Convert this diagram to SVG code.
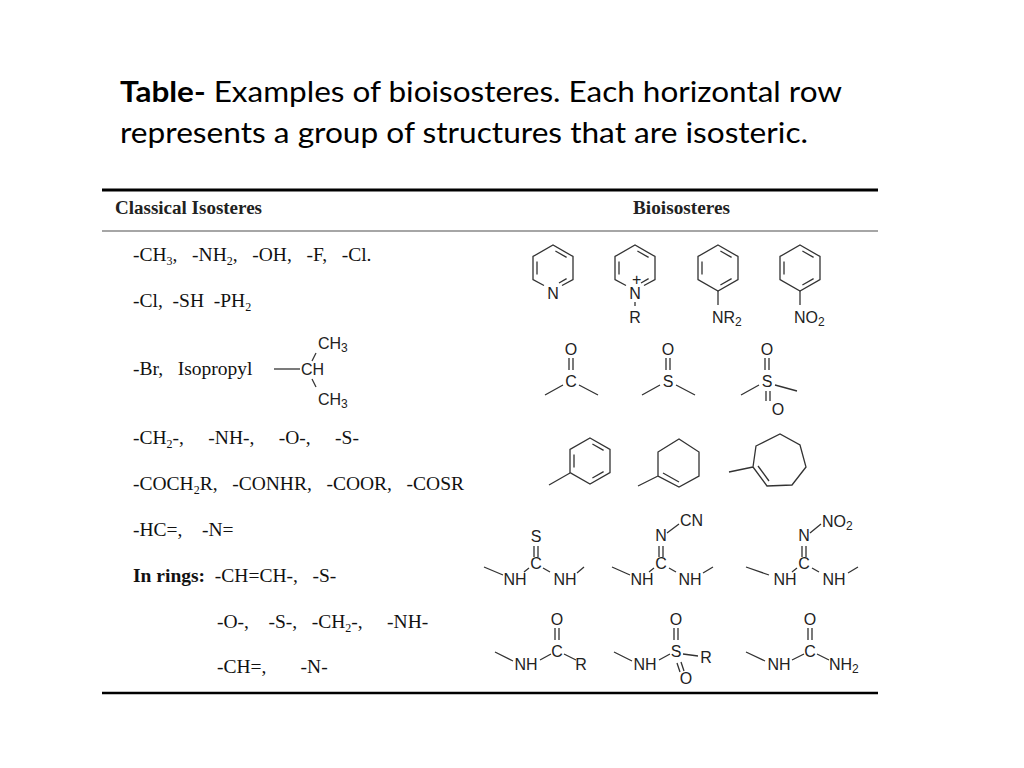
<svg xmlns="http://www.w3.org/2000/svg" width="1024" height="768" viewBox="0 0 1024 768">
<style>
text{white-space:pre}
.t{font-family:Lato,"Open Sans",sans-serif;font-size:29px;fill:#000}
.s{font-family:"Liberation Serif",serif;font-size:19.5px;fill:#111}
.h{font-family:"Liberation Serif",serif;font-size:18px;font-weight:bold;fill:#222}
.c{font-family:"Liberation Sans",Arial,sans-serif;font-size:16px;fill:#222}
.b{stroke:#333;stroke-width:1.3;fill:none}
</style>
<defs>
<g id="ring"><path class="b" d="M0,-23 L20,-11.5 L20,11.5 L0,23 L-20,11.5 L-20,-11.5 Z"/><path class="b" d="M2.4,-17 L13.6,-10.6 M13.6,10.6 L2.4,17 M-16,6.4 L-16,-6.4"/></g>
<g id="pyr"><path class="b" d="M-9,17.5 L-20,11.5 L-20,-11.5 L0,-23 L20,-11.5 L20,11.5 L9,17.5"/><path class="b" d="M2.4,-17 L13.6,-10.6 M13.6,10.6 L6,15 M-16,6.4 L-16,-6.4"/><text class="c" x="0" y="31" text-anchor="middle">N</text></g>
</defs>
<rect width="1024" height="768" fill="#fff"/>
<text class="t" x="120" y="102" textLength="722" lengthAdjust="spacingAndGlyphs"><tspan font-weight="bold">Table-</tspan> Examples of bioisosteres. Each horizontal row</text>
<text class="t" x="120" y="143" textLength="688" lengthAdjust="spacingAndGlyphs">represents a group of structures that are isosteric.</text>
<line x1="102" y1="190" x2="878" y2="190" stroke="#000" stroke-width="3"/>
<line x1="102" y1="231" x2="878" y2="231" stroke="#888" stroke-width="1.5"/>
<line x1="102" y1="693" x2="878" y2="693" stroke="#000" stroke-width="2.5"/>
<text class="h" x="115" y="214" textLength="147" lengthAdjust="spacingAndGlyphs">Classical Isosteres</text>
<text class="h" x="633" y="214" textLength="97" lengthAdjust="spacingAndGlyphs">Bioisosteres</text>
<g id="left">
<text class="s" x="133" y="261">-CH<tspan font-size="12" dy="4">3</tspan><tspan dy="-4">,   -NH</tspan><tspan font-size="12" dy="4">2</tspan><tspan dy="-4">,   -OH,   -F,   -Cl.</tspan></text>
<text class="s" x="133" y="307">-Cl,  -SH  -PH<tspan font-size="12" dy="4">2</tspan></text>
<text class="s" x="133" y="375">-Br,   Isopropyl</text>
<line class="b" x1="274" y1="369" x2="300" y2="369"/>
<text class="c" x="301" y="375">CH</text>
<text class="c" x="318" y="349">CH<tspan font-size="12" dy="3">3</tspan></text>
<text class="c" x="318" y="405">CH<tspan font-size="12" dy="3">3</tspan></text>
<line class="b" x1="316" y1="353" x2="312" y2="361"/>
<line class="b" x1="312" y1="379" x2="316" y2="387"/>
<text class="s" x="133" y="444">-CH<tspan font-size="12" dy="4">2</tspan><tspan dy="-4">-,     -NH-,     -O-,     -S-</tspan></text>
<text class="s" x="133" y="490">-COCH<tspan font-size="12" dy="4">2</tspan><tspan dy="-4">R,   -CONHR,   -COOR,   -COSR</tspan></text>
<text class="s" x="133" y="536">-HC=,    -N=</text>
<text class="s" x="133" y="582"><tspan font-weight="bold">In rings:</tspan>  -CH=CH-,   -S-</text>
<text class="s" x="217" y="628">-O-,    -S-,   -CH<tspan font-size="12" dy="4">2</tspan><tspan dy="-4">-,     -NH-</tspan></text>
<text class="s" x="217" y="673">-CH=,       -N-</text>
</g>
<g id="row1">
<use href="#pyr" x="553" y="268"/>
<use href="#pyr" x="635" y="268"/>
<text class="c" x="632" y="285" font-size="12">+</text>
<line class="b" x1="635" y1="302" x2="635" y2="306"/>
<text class="c" x="635" y="323" text-anchor="middle">R</text>
<use href="#ring" x="718" y="268"/>
<line class="b" x1="718" y1="291" x2="718" y2="305"/>
<text class="c" x="712" y="323">NR<tspan font-size="12" dy="3">2</tspan></text>
<use href="#ring" x="800" y="268"/>
<line class="b" x1="800" y1="291" x2="800" y2="305"/>
<text class="c" x="794" y="323">NO<tspan font-size="12" dy="3">2</tspan></text>
</g>
<g id="row2">
<text class="c" x="571" y="355" text-anchor="middle">O</text>
<path class="b" d="M569,358 V370 M573,358 V370 M545,395 L563,385 M579,385 L598,395"/>
<text class="c" x="571" y="387" text-anchor="middle">C</text>
<text class="c" x="668" y="355" text-anchor="middle">O</text>
<path class="b" d="M666,358 V370 M670,358 V370 M642,395 L660,385 M676,385 L695,395"/>
<text class="c" x="668" y="387" text-anchor="middle">S</text>
<text class="c" x="767" y="355" text-anchor="middle">O</text>
<path class="b" d="M765,358 V370 M769,358 V370 M741,395 L759,385 M775,385 L797,391 M766,391 V401 M770,391 V401"/>
<text class="c" x="767" y="387" text-anchor="middle">S</text>
<text class="c" x="778" y="415" text-anchor="middle">O</text>
</g>
<g id="row3">
<use href="#ring" x="590" y="461"/>
<line class="b" x1="570" y1="473" x2="549" y2="485"/>
<path class="b" d="M658,452 L679,439 L699,452 L699,476 L679,487 L658,476 Z M658,476 L638,486 M663,473 L679,482"/>
<path class="b" d="M756,446 L780,434 L800,445 L806,467 L792,485 L767,486 L753,467 Z M753,467 L729,472 M758,466 L769,481"/>
</g>
<g id="row4">
<text class="c" x="536" y="542" text-anchor="middle">S</text>
<path class="b" d="M534,546 V557 M538,546 V557 M484,567 L503,575 M529,568 L524,572 M543,568 L550,572 M577,573 L584,567"/>
<text class="c" x="536" y="569" text-anchor="middle">C</text>
<text class="c" x="515" y="585" text-anchor="middle">NH</text>
<text class="c" x="565" y="585" text-anchor="middle">NH</text>
<text class="c" x="661" y="541" text-anchor="middle">N</text>
<text class="c" x="680" y="526">CN</text>
<path class="b" d="M659,546 V557 M663,546 V557 M667,533 L679,524 M612,567 L630,575 M654,568 L649,572 M669,568 L676,572 M703,573 L713,567"/>
<text class="c" x="661" y="569" text-anchor="middle">C</text>
<text class="c" x="642" y="585" text-anchor="middle">NH</text>
<text class="c" x="690" y="585" text-anchor="middle">NH</text>
<text class="c" x="804" y="541" text-anchor="middle">N</text>
<text class="c" x="822" y="527">NO<tspan font-size="12" dy="3">2</tspan></text>
<path class="b" d="M802,546 V557 M806,546 V557 M810,533 L821,524 M746,567 L769,575 M797,568 L792,572 M812,568 L819,572 M848,573 L858,567"/>
<text class="c" x="804" y="569" text-anchor="middle">C</text>
<text class="c" x="785" y="585" text-anchor="middle">NH</text>
<text class="c" x="834" y="585" text-anchor="middle">NH</text>
</g>
<g id="row5">
<text class="c" x="557" y="625" text-anchor="middle">O</text>
<path class="b" d="M555,628 V640 M559,628 V640 M495,652 L513,661 M540,660 L551,654 M564,654 L576,660"/>
<text class="c" x="557" y="657" text-anchor="middle">C</text>
<text class="c" x="526" y="670" text-anchor="middle">NH</text>
<text class="c" x="581" y="670" text-anchor="middle">R</text>
<text class="c" x="676" y="625" text-anchor="middle">O</text>
<path class="b" d="M674,628 V640 M678,628 V640 M614,652 L632,661 M659,660 L670,654 M683,654 L698,656 M677,663 L680,672 M681,662 L684,671"/>
<text class="c" x="676" y="657" text-anchor="middle">S</text>
<text class="c" x="645" y="670" text-anchor="middle">NH</text>
<text class="c" x="706" y="663" text-anchor="middle">R</text>
<text class="c" x="686" y="684" text-anchor="middle">O</text>
<text class="c" x="810" y="625" text-anchor="middle">O</text>
<path class="b" d="M808,628 V640 M812,628 V640 M746,652 L765,661 M792,660 L804,654 M817,654 L829,660"/>
<text class="c" x="810" y="657" text-anchor="middle">C</text>
<text class="c" x="779" y="670" text-anchor="middle">NH</text>
<text class="c" x="829" y="670">NH<tspan font-size="12" dy="3">2</tspan></text>
</g>
</svg>
